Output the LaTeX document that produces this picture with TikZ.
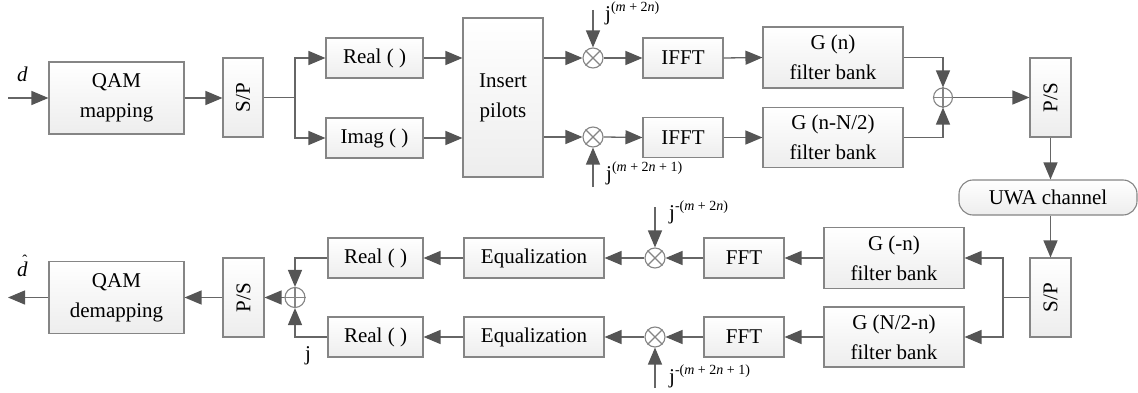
\documentclass[tikz,border=0pt]{standalone}
\usepackage{fontspec}
\setmainfont{Liberation Serif}
\usetikzlibrary{arrows.meta,calc}
\definecolor{ln}{HTML}{666666}
\definecolor{bd}{HTML}{858585}
\definecolor{ah}{HTML}{555555}
\newcommand{\jexp}[1]{j\raisebox{9pt}{\fontsize{14}{14}\selectfont #1}}
\tikzset{
  blk/.style={draw=bd, line width=1.1pt, top color=white, bottom color=black!7, inner sep=0pt, align=center, font=\fontsize{21}{30}\selectfont},
  arr/.style={draw=ln, line width=1.3pt, -{Triangle[length=17pt,width=14pt,color=ah,fill=ah]}},
  con/.style={draw=ln, line width=1.3pt},
  mul/.style={circle, draw=bd, line width=1.1pt, minimum size=20pt, inner sep=0pt, fill=white},
  lab/.style={inner sep=0pt, font=\fontsize{21}{24}\selectfont},
}
\begin{document}
\begin{tikzpicture}[x=1pt,y=-1pt]
\useasboundingbox (0,0) rectangle (1138,393);
% ---------- transmitter ----------
\node[blk, minimum width=135pt, minimum height=72pt] (qam) at (116.5,98) {QAM\\mapping};
\node[blk, minimum width=40pt, minimum height=79pt] (sp1) at (243,97.5) {};
\node[rotate=90, font=\fontsize{21}{24}\selectfont, inner sep=0pt] (sp1t) at (sp1.center) {S/P};
\node[blk, minimum width=97pt, minimum height=40pt] (re1) at (374.5,58) {Real ( )};
\node[blk, minimum width=97pt, minimum height=40pt] (im1) at (374.5,138) {Imag ( )};
\node[blk, minimum width=80pt, minimum height=159pt] (ins) at (503,97.5) {Insert\\pilots};
\node[mul] (mt) at (593,58) {};
\node[mul] (mb) at (593,137) {};
\node[blk, minimum width=80pt, minimum height=40pt] (ifft1) at (683,58) {IFFT};
\node[blk, minimum width=80pt, minimum height=40pt] (ifft2) at (683,137.5) {IFFT};
\node[blk, minimum width=140pt, minimum height=61pt] (g1) at (833,57.5) {G (n)\\filter bank};
\node[blk, minimum width=140pt, minimum height=60pt] (g2) at (833,137.5) {G (n-N/2)\\filter bank};
\node[mul, minimum size=19pt] (add1) at (943,97.5) {};
\node[blk, minimum width=41pt, minimum height=79pt] (ps1) at (1050.5,97.5) {};
\node[rotate=90, font=\fontsize{21}{24}\selectfont, inner sep=0pt] (ps1t) at (ps1.center) {P/S};
\node[blk, rounded corners=14pt, minimum width=178pt, minimum height=35pt] (uwa) at (1048,197.5) {UWA channel};
% ---------- receiver ----------
\node[blk, minimum width=41pt, minimum height=79pt] (sp2) at (1050.5,297.5) {};
\node[rotate=90, font=\fontsize{21}{24}\selectfont, inner sep=0pt] (sp2t) at (sp2.center) {S/P};
\node[blk, minimum width=140pt, minimum height=61pt] (g3) at (894,258) {G (-n)\\filter bank};
\node[blk, minimum width=140pt, minimum height=60pt] (g4) at (894,337) {G (N/2-n)\\filter bank};
\node[blk, minimum width=80pt, minimum height=40pt] (fft1) at (744,258) {FFT};
\node[blk, minimum width=80pt, minimum height=40pt] (fft2) at (744,337) {FFT};
\node[mul] (mr1) at (655,258) {};
\node[mul] (mr2) at (655,337) {};
\node[blk, minimum width=140pt, minimum height=40pt] (eq1) at (534,258) {Equalization};
\node[blk, minimum width=140pt, minimum height=40pt] (eq2) at (534,337) {Equalization};
\node[blk, minimum width=95pt, minimum height=40pt] (re2) at (375.5,258) {Real ( )};
\node[blk, minimum width=95pt, minimum height=40pt] (re3) at (375.5,337) {Real ( )};
\node[mul] (add2) at (295,297.5) {};
\node[blk, minimum width=41pt, minimum height=79pt] (ps2) at (243.5,297.5) {};
\node[rotate=90, font=\fontsize{21}{24}\selectfont, inner sep=0pt] (ps2t) at (ps2.center) {P/S};
\node[blk, minimum width=135pt, minimum height=72pt] (qam2) at (116.5,297.5) {QAM\\demapping};
% ---------- symbols inside circles ----------
\foreach \m in {mt,mb,mr1,mr2}{
  \draw[draw=bd, line width=1.1pt] (\m.north west) -- (\m.south east) (\m.north east) -- (\m.south west);
}
\foreach \m in {add1,add2}{
  \draw[draw=bd, line width=1.1pt] (\m.north) -- (\m.south) (\m.west) -- (\m.east);
}
% ---------- coordinates ----------
\coordinate (din) at (8,98);
\coordinate (dout) at (8,297.5);
\coordinate (br1) at (295,97.5);
\coordinate (br2) at (1003,297.5);
\coordinate (jt) at (593,10);
\coordinate (jb) at (593,187);
\coordinate (jrt) at (655,207);
\coordinate (jrb) at (655,388);
% ---------- connectors tx ----------
\draw[arr] (din) -- (qam.west);
\draw[arr] (qam.east) -- (sp1.west |- qam.east);
\draw[con] (sp1.east) -- (br1);
\draw[arr] (br1) |- (re1.west);
\draw[arr] (br1) |- (im1.west);
\draw[arr] (re1.east) -- (ins.west |- re1.east);
\draw[arr] (im1.east) -- (ins.west |- im1.east);
\draw[arr] (ins.east |- mt) -- (mt.west);
\draw[arr] (ins.east |- mb) -- (mb.west);
\draw[arr] (jt) -- (mt.north);
\draw[arr] (jb) -- (mb.south);
\draw[arr] (mt.east) -- (ifft1.west);
\draw[arr] (mb.east) -- (ifft2.west);
\draw[arr] (ifft1.east) -- (g1.west);
\draw[arr] (ifft2.east) -- (g2.west);
\draw[arr] (g1.east) -| (add1.north);
\draw[arr] (g2.east) -| (add1.south);
\draw[arr] (add1.east) -- (ps1.west |- add1.east);
\draw[arr] (ps1.south) -- (ps1.south |- uwa.north);
% ---------- connectors rx ----------
\draw[arr] (uwa.south -| sp2.north) -- (sp2.north);
\draw[con] (sp2.west) -- (br2);
\draw[arr] (br2) |- (g3.east);
\draw[arr] (br2) |- (g4.east);
\draw[arr] (g3.west) -- (fft1.east);
\draw[arr] (g4.west) -- (fft2.east);
\draw[arr] (fft1.west) -- (mr1.east);
\draw[arr] (fft2.west) -- (mr2.east);
\draw[arr] (jrt) -- (mr1.north);
\draw[arr] (jrb) -- (mr2.south);
\draw[arr] (mr1.west) -- (eq1.east);
\draw[arr] (mr2.west) -- (eq2.east);
\draw[arr] (eq1.west) -- (re2.east);
\draw[arr] (eq2.west) -- (re3.east);
\draw[arr] (re2.west) -| (add2.north);
\draw[arr] (re3.west) -| (add2.south);
\draw[arr] (add2.west) -- (ps2.east);
\draw[arr] (ps2.west) -- (qam2.east |- ps2.west);
\draw[arr] (qam2.west) -- (dout);
% ---------- labels ----------
\node[lab, anchor=base west] (ld) at (17,82) {\textit{d}};
\node[lab, anchor=base west] (ldh) at (17,276) {\textit{d}\llap{\raisebox{11pt}{\fontsize{15}{15}\selectfont ˆ}\hspace{0.5pt}}};
\node[lab, anchor=base west] (l1) at (605,20.5) {\jexp{(\textit{m} + 2\textit{n})}};
\node[lab, anchor=base west] (l2) at (606,180.5) {\jexp{(\textit{m} + 2\textit{n} + 1)}};
\node[lab, anchor=base west] (l3) at (669,219) {\jexp{-(\textit{m} + 2\textit{n})}};
\node[lab, anchor=base west] (l4) at (669,383) {\jexp{-(\textit{m} + 2\textit{n} + 1)}};
\node[lab, anchor=base west] (l5) at (305,360) {j};
\end{tikzpicture}
\end{document}
